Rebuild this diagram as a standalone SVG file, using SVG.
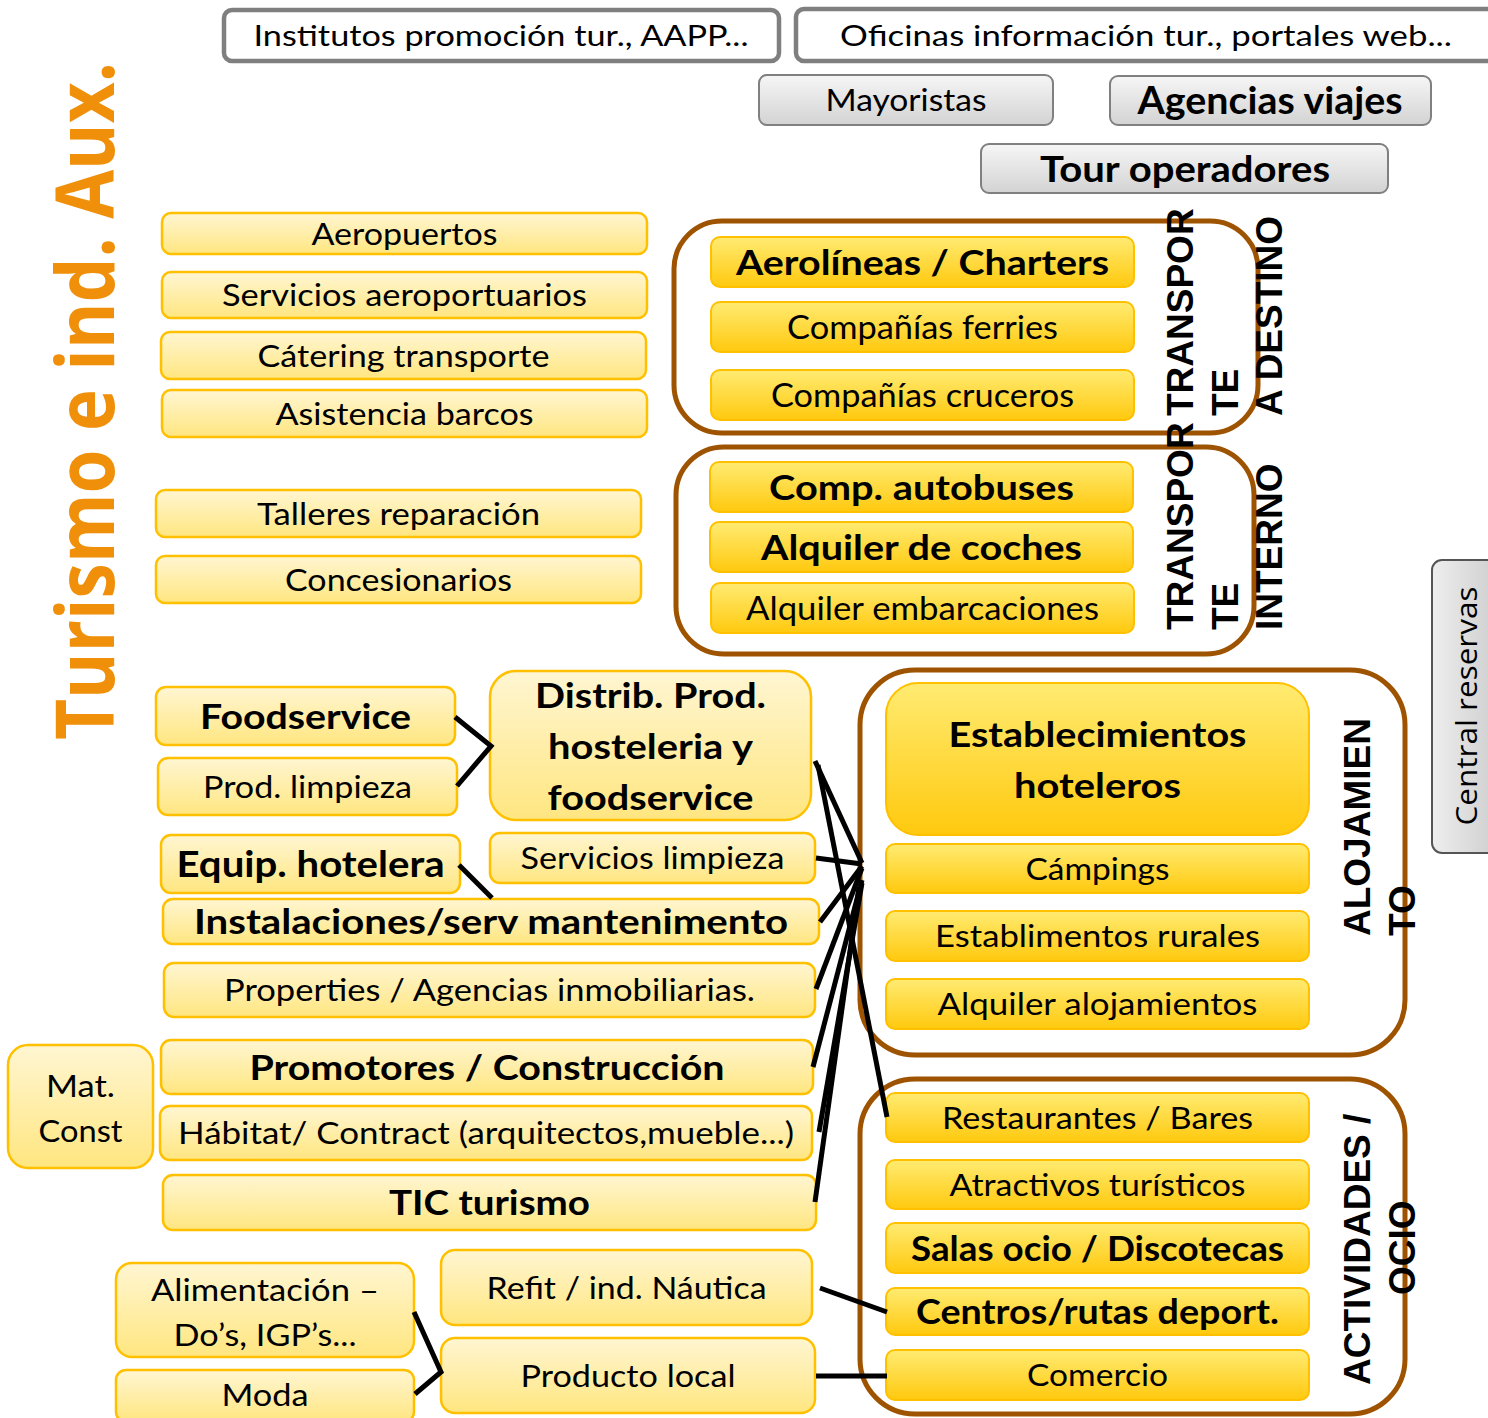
<svg xmlns="http://www.w3.org/2000/svg" width="1488" height="1418" viewBox="0 0 1488 1418">
<defs>
<linearGradient id="gLight" x1="0" y1="0" x2="0" y2="1"><stop offset="0" stop-color="#FFF6D2"/><stop offset="1" stop-color="#FFE680"/></linearGradient>
<linearGradient id="gStrong" x1="0" y1="0" x2="0" y2="1"><stop offset="0" stop-color="#FFEB72"/><stop offset="1" stop-color="#FFC90E"/></linearGradient>
<linearGradient id="gGray" x1="0" y1="0" x2="0" y2="1"><stop offset="0" stop-color="#F6F6F6"/><stop offset="1" stop-color="#D3D3D3"/></linearGradient>
<linearGradient id="gGrayH" x1="0" y1="0" x2="1" y2="0"><stop offset="0" stop-color="#EEEEEE"/><stop offset="1" stop-color="#CCCCCC"/></linearGradient>
<style>
.light{fill:url(#gLight);stroke:#FFC000;stroke-width:2.5}
.strong{fill:url(#gStrong);stroke:#FFC000;stroke-width:2}
.white{fill:#FFFFFF;stroke:#7F7F7F;stroke-width:4.5}
.gray{fill:url(#gGray);stroke:#808080;stroke-width:2}
.grp{fill:none;stroke:#9E5300;stroke-width:5}
text{font-family:Lato,"Open Sans","Liberation Sans",sans-serif;fill:#000;text-anchor:middle}
.n{font-size:31px;font-weight:400}
.b{font-size:35px;font-weight:700}
.vl{font-family:"Liberation Sans",Arial,sans-serif;font-size:37px;font-weight:700;text-anchor:start}
.conn{stroke:#000;stroke-width:5;fill:none}
</style>
</defs>
<rect width="1488" height="1418" fill="#FFFFFF"/>

<g id="title">
<text transform="translate(114,401) rotate(-90) scale(1,1.13)" style="font-family:'Open Sans','DejaVu Sans',sans-serif;font-size:71px;font-weight:700;fill:#F0900A" textLength="678" lengthAdjust="spacingAndGlyphs">Turismo e ind. Aux.</text>
</g>

<!-- top -->
<g id="institutos"><rect class="white" x="224" y="10" width="555" height="51" rx="8"/><text class="n" x="501" y="46" style="font-size:28px" textLength="495" lengthAdjust="spacingAndGlyphs">Institutos promoción tur., AAPP...</text></g>
<g id="oficinas"><rect class="white" x="796" y="9" width="704" height="52" rx="8"/><text class="n" x="1146" y="46" style="font-size:28px" textLength="612" lengthAdjust="spacingAndGlyphs">Oficinas información tur., portales web...</text></g>
<g id="mayoristas"><rect class="gray" x="759" y="75" width="294" height="50" rx="8"/><text class="n" x="906" y="111" style="font-size:30px" textLength="161" lengthAdjust="spacingAndGlyphs">Mayoristas</text></g>
<g id="agencias"><rect class="gray" x="1110" y="76" width="321" height="49" rx="8"/><text class="b" x="1270" y="114" style="font-size:38px" textLength="265" lengthAdjust="spacingAndGlyphs">Agencias viajes</text></g>
<g id="tour"><rect class="gray" x="981" y="144" width="407" height="49" rx="8"/><text class="b" x="1185" y="182" style="font-size:37px" textLength="290" lengthAdjust="spacingAndGlyphs">Tour operadores</text></g>

<!-- left column -->
<g id="aeropuertos"><rect class="light" x="162" y="213" width="485" height="41" rx="9"/><text class="n" x="404.5" y="245" textLength="186" lengthAdjust="spacingAndGlyphs">Aeropuertos</text></g>
<g id="servaero"><rect class="light" x="162" y="272" width="485" height="46" rx="9"/><text class="n" x="404.5" y="306" textLength="365" lengthAdjust="spacingAndGlyphs">Servicios aeroportuarios</text></g>
<g id="catering"><rect class="light" x="161" y="332" width="485" height="47" rx="9"/><text class="n" x="403.5" y="367" textLength="292" lengthAdjust="spacingAndGlyphs">Cátering transporte</text></g>
<g id="asistencia"><rect class="light" x="162" y="390" width="485" height="47" rx="9"/><text class="n" x="404.5" y="425" textLength="258" lengthAdjust="spacingAndGlyphs">Asistencia barcos</text></g>
<g id="talleres"><rect class="light" x="156" y="490" width="485" height="47" rx="9"/><text class="n" x="398.5" y="525" textLength="283" lengthAdjust="spacingAndGlyphs">Talleres reparación</text></g>
<g id="concesionarios"><rect class="light" x="156" y="556" width="485" height="47" rx="9"/><text class="n" x="398.5" y="591" textLength="227" lengthAdjust="spacingAndGlyphs">Concesionarios</text></g>

<!-- transport destino -->
<g id="transporte-destino">
<rect class="grp" x="674" y="221" width="584" height="212" rx="48"/>
<text class="vl" transform="translate(1193,416) rotate(-90)"><tspan x="0" y="0">TRANSPOR</tspan><tspan x="0" y="44.5">TE</tspan><tspan x="0" y="89">A DESTINO</tspan></text>
</g>
<g id="aerolineas"><rect class="strong" x="711" y="237" width="423" height="50" rx="9"/><text class="b" x="922.5" y="275" textLength="373" lengthAdjust="spacingAndGlyphs">Aerolíneas / Charters</text></g>
<g id="ferries"><rect class="strong" x="711" y="302" width="423" height="50" rx="9"/><text class="n" x="922.5" y="339" style="font-size:32px" textLength="271" lengthAdjust="spacingAndGlyphs">Compañías ferries</text></g>
<g id="cruceros"><rect class="strong" x="711" y="370" width="423" height="50" rx="9"/><text class="n" x="922.5" y="407" style="font-size:32px" textLength="303" lengthAdjust="spacingAndGlyphs">Compañías cruceros</text></g>

<!-- transport interno -->
<g id="transporte-interno">
<rect class="grp" x="676" y="447" width="578" height="207" rx="48"/>
<text class="vl" transform="translate(1193,630) rotate(-90)"><tspan x="0" y="0">TRANSPOR</tspan><tspan x="0" y="44.5">TE</tspan><tspan x="0" y="89">INTERNO</tspan></text>
</g>
<g id="autobuses"><rect class="strong" x="710" y="462" width="423" height="50" rx="9"/><text class="b" x="921.5" y="500" textLength="305" lengthAdjust="spacingAndGlyphs">Comp. autobuses</text></g>
<g id="coches"><rect class="strong" x="710" y="522" width="423" height="50" rx="9"/><text class="b" x="921.5" y="560" textLength="321" lengthAdjust="spacingAndGlyphs">Alquiler de coches</text></g>
<g id="embarcaciones"><rect class="strong" x="711" y="583" width="423" height="50" rx="9"/><text class="n" x="922.5" y="620" style="font-size:32px" textLength="353" lengthAdjust="spacingAndGlyphs">Alquiler embarcaciones</text></g>

<!-- alojamiento -->
<g id="alojamiento">
<rect class="grp" x="860" y="670" width="545" height="385" rx="55"/>
<text class="vl" transform="translate(1370,936) rotate(-90)"><tspan x="0" y="0">ALOJAMIEN</tspan><tspan x="0" y="44.5">TO</tspan></text>
</g>
<g id="hoteleros"><rect class="strong" x="886" y="683" width="423" height="152" rx="32"/><text class="b" x="1097.5" y="747" textLength="298" lengthAdjust="spacingAndGlyphs">Establecimientos</text><text class="b" x="1097.5" y="798" textLength="167" lengthAdjust="spacingAndGlyphs">hoteleros</text></g>
<g id="campings"><rect class="strong" x="886" y="844" width="423" height="49" rx="9"/><text class="n" x="1097.5" y="880" textLength="144" lengthAdjust="spacingAndGlyphs">Cámpings</text></g>
<g id="rurales"><rect class="strong" x="886" y="911" width="423" height="50" rx="9"/><text class="n" x="1097.5" y="947" textLength="325" lengthAdjust="spacingAndGlyphs">Establimentos rurales</text></g>
<g id="alquiler-aloj"><rect class="strong" x="886" y="979" width="423" height="50" rx="9"/><text class="n" x="1097.5" y="1015" textLength="320" lengthAdjust="spacingAndGlyphs">Alquiler alojamientos</text></g>

<!-- actividades -->
<g id="actividades">
<rect class="grp" x="860" y="1079" width="545" height="335" rx="55"/>
<text class="vl" transform="translate(1370,1385) rotate(-90)"><tspan x="0" y="0">ACTIVIDADES /</tspan><tspan x="90" y="44.5">OCIO</tspan></text>
</g>
<g id="restaurantes"><rect class="strong" x="886" y="1093" width="423" height="49" rx="9"/><text class="n" x="1097.5" y="1129" textLength="311" lengthAdjust="spacingAndGlyphs">Restaurantes / Bares</text></g>
<g id="atractivos"><rect class="strong" x="886" y="1160" width="423" height="49" rx="9"/><text class="n" x="1097.5" y="1196" textLength="296" lengthAdjust="spacingAndGlyphs">Atractivos turísticos</text></g>
<g id="salas"><rect class="strong" x="886" y="1223" width="423" height="50" rx="9"/><text class="b" x="1097.5" y="1261" textLength="373" lengthAdjust="spacingAndGlyphs">Salas ocio / Discotecas</text></g>
<g id="centros"><rect class="strong" x="886" y="1288" width="423" height="47" rx="9"/><text class="b" x="1097.5" y="1324" textLength="363" lengthAdjust="spacingAndGlyphs">Centros/rutas deport.</text></g>
<g id="comercio"><rect class="strong" x="886" y="1350" width="423" height="50" rx="9"/><text class="n" x="1097.5" y="1386" textLength="141" lengthAdjust="spacingAndGlyphs">Comercio</text></g>

<g id="central-reservas"><rect x="1432" y="560" width="70" height="293" rx="10" fill="url(#gGrayH)" stroke="#555555" stroke-width="2"/><text transform="translate(1477,706) rotate(-90)" style="font-family:'Open Sans','Liberation Sans',sans-serif;font-size:29px" textLength="239" lengthAdjust="spacingAndGlyphs">Central reservas</text></g>

<!-- middle -->
<g id="foodservice"><rect class="light" x="156" y="687" width="299" height="58" rx="10"/><text class="b" x="305.5" y="729" textLength="211" lengthAdjust="spacingAndGlyphs">Foodservice</text></g>
<g id="prod-limpieza"><rect class="light" x="158" y="758" width="299" height="57" rx="10"/><text class="n" x="307.5" y="798" textLength="209" lengthAdjust="spacingAndGlyphs">Prod. limpieza</text></g>
<g id="distrib"><rect class="light" x="490" y="671" width="321" height="149" rx="26"/><text class="b" x="650.5" y="708" textLength="231" lengthAdjust="spacingAndGlyphs">Distrib. Prod.</text><text class="b" x="650.5" y="759" textLength="205" lengthAdjust="spacingAndGlyphs">hosteleria y</text><text class="b" x="650.5" y="810" textLength="206" lengthAdjust="spacingAndGlyphs">foodservice</text></g>
<g id="equip"><rect class="light" x="161" y="835" width="299" height="58" rx="10"/><text class="b" x="310.5" y="877" style="font-size:37px" textLength="268" lengthAdjust="spacingAndGlyphs">Equip. hotelera</text></g>
<g id="serv-limpieza"><rect class="light" x="490" y="833" width="325" height="50" rx="10"/><text class="n" x="652.5" y="869" textLength="264" lengthAdjust="spacingAndGlyphs">Servicios limpieza</text></g>
<g id="instalaciones"><rect class="light" x="163" y="899" width="656" height="45" rx="10"/><text class="b" x="491" y="934" textLength="594" lengthAdjust="spacingAndGlyphs">Instalaciones/serv mantenimento</text></g>
<g id="properties"><rect class="light" x="164" y="963" width="651" height="54" rx="10"/><text class="n" x="489.5" y="1001" textLength="531" lengthAdjust="spacingAndGlyphs">Properties / Agencias inmobiliarias.</text></g>
<g id="mat-const"><rect class="light" x="8" y="1045" width="145" height="123" rx="20"/><text class="n" x="80.5" y="1097" textLength="69" lengthAdjust="spacingAndGlyphs">Mat.</text><text class="n" x="80.5" y="1142" textLength="84" lengthAdjust="spacingAndGlyphs">Const</text></g>
<g id="promotores"><rect class="light" x="161" y="1040" width="652" height="54" rx="10"/><text class="b" x="487" y="1080" textLength="475" lengthAdjust="spacingAndGlyphs">Promotores / Construcción</text></g>
<g id="habitat"><rect class="light" x="160" y="1106" width="652" height="54" rx="10"/><text class="n" x="486" y="1144" textLength="616" lengthAdjust="spacingAndGlyphs">Hábitat/ Contract (arquitectos,mueble...)</text></g>
<g id="tic"><rect class="light" x="163" y="1175" width="653" height="55" rx="10"/><text class="b" x="489.5" y="1215" textLength="201" lengthAdjust="spacingAndGlyphs">TIC turismo</text></g>
<g id="alimentacion"><rect class="light" x="116" y="1263" width="298" height="94" rx="16"/><text class="n" x="265" y="1301" textLength="228" lengthAdjust="spacingAndGlyphs">Alimentación –</text><text class="n" x="265" y="1346" textLength="183" lengthAdjust="spacingAndGlyphs">Do’s, IGP’s...</text></g>
<g id="moda"><rect class="light" x="116" y="1370" width="298" height="52" rx="10"/><text class="n" x="265" y="1406" textLength="87" lengthAdjust="spacingAndGlyphs">Moda</text></g>
<g id="refit"><rect class="light" x="441" y="1250" width="371" height="75" rx="14"/><text class="n" x="626.5" y="1299" textLength="280" lengthAdjust="spacingAndGlyphs">Refit / ind. Náutica</text></g>
<g id="producto-local"><rect class="light" x="441" y="1338" width="374" height="75" rx="14"/><text class="n" x="628" y="1387" textLength="215" lengthAdjust="spacingAndGlyphs">Producto local</text></g>

<g id="connectors" class="conn">
<polyline points="455,717 491,746 457,786"/>
<line x1="459" y1="865" x2="492" y2="898"/>
<line x1="815" y1="761" x2="862" y2="863"/>
<line x1="818" y1="765" x2="887" y2="1117"/>
<line x1="816" y1="858" x2="862" y2="864"/>
<line x1="820" y1="922" x2="862" y2="866"/>
<line x1="816" y1="989" x2="862" y2="868"/>
<line x1="813" y1="1067" x2="862" y2="880"/>
<line x1="819" y1="1132" x2="862" y2="883"/>
<line x1="815" y1="1202" x2="859" y2="887"/>
<line x1="820" y1="1288" x2="887" y2="1312"/>
<line x1="816" y1="1376" x2="887" y2="1376"/>
<polyline points="414,1312 441,1372 415,1394"/>
</g>
</svg>
